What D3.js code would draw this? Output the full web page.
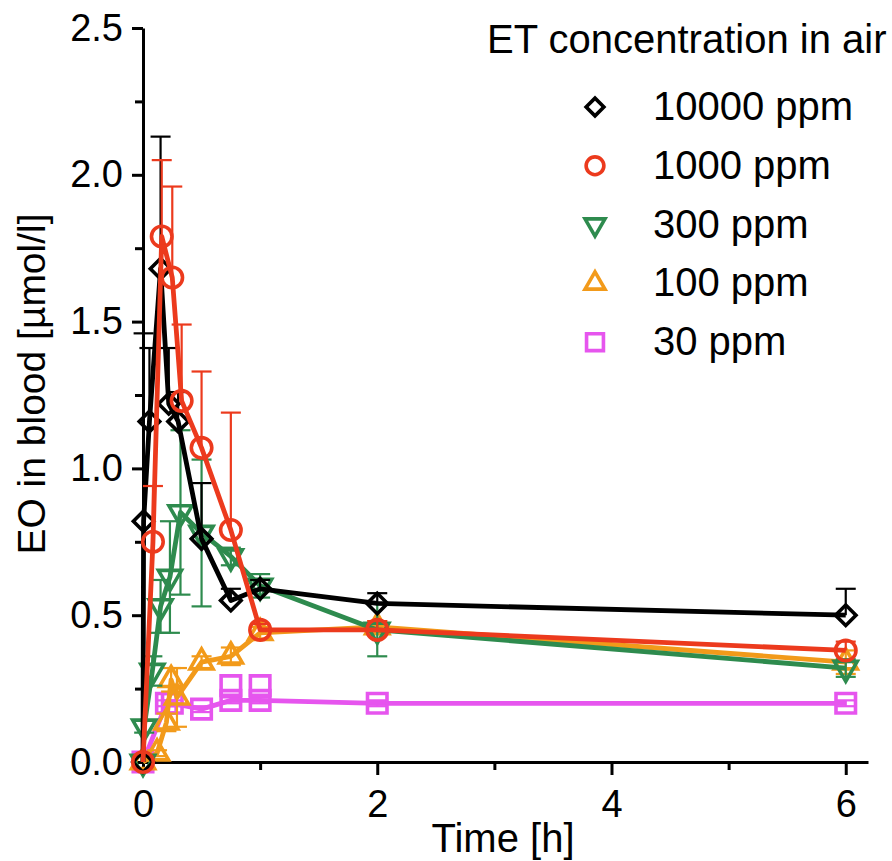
<!DOCTYPE html>
<html>
<head>
<meta charset="utf-8">
<script src="https://cdn.jsdelivr.net/npm/d3@7"></script>
<style>
  body { margin: 0; background: #fff; }
  text { font-family: "Liberation Sans", Arial, sans-serif; fill: #000; }
</style>
</head>
<body>
<div id="chart"></div>
<script>
var width = 892,
    height = 861;

// time [h], mean EO [umol/l], SD  -- one set per ET concentration
var t10000 = [0, 0.005, 0.055, 0.15, 0.22, 0.30, 0.5, 0.75, 1, 2, 6];
var v10000 = [0, 0.82, 1.16, 1.68, 1.22, 1.16, 0.76, 0.55, 0.59, 0.54, 0.50];
var e10000 = [0, 0.64, 0.25, 0.45, 0.19, 0.10, 0.19, 0.04, 0.03, 0.035, 0.09];

var t1000 = [0, 0.085, 0.16, 0.25, 0.33, 0.5, 0.75, 1, 2, 6];
var v1000 = [0, 0.75, 1.79, 1.65, 1.23, 1.07, 0.79, 0.45, 0.45, 0.38];
var e1000 = [0, 0.19, 0.26, 0.31, 0.26, 0.26, 0.40, 0.02, 0.03, 0.03];

var t300 = [0, 0.01, 0.08, 0.15, 0.23, 0.32, 0.5, 0.75, 1, 2, 6];
var v300 = [0, 0.12, 0.31, 0.53, 0.63, 0.85, 0.78, 0.70, 0.60, 0.45, 0.32];
var e300 = [0, 0.02, 0.05, 0.09, 0.19, 0.28, 0.25, 0.03, 0.04, 0.09, 0.03];

var t100 = [0, 0.12, 0.2, 0.24, 0.29, 0.5, 0.75, 1, 2, 6];
var v100 = [0, 0.03, 0.135, 0.28, 0.22, 0.34, 0.36, 0.44, 0.46, 0.34];
var e100 = [0, 0.01, 0.03, 0.04, 0.10, 0.02, 0.03, 0.02, 0.02, 0.04];

var t30 = [0, 0.2, 0.25, 0.5, 0.75, 1, 2, 6];
var v30 = [0, 0.20, 0.20, 0.18, 0.21, 0.21, 0.20, 0.20];
var e30 = [0, 0.01, 0.01, 0.01, 0.01, 0.01, 0.01, 0.01];
// second sample at 0.75 h and 1 h
var t30b = [0.75, 1];
var v30b = [0.26, 0.26];

var legendLabels = ["10000 ppm", "1000 ppm", "300 ppm", "100 ppm", "30 ppm"];
var legendTitle = "ET concentration in air";
var yTicks = [0, 0.5, 1, 1.5, 2, 2.5];
var yMinor = [0.25, 0.75, 1.25, 1.75, 2.25];
var xTicks = [0, 2, 4, 6];
var xMinor = [1, 3, 5];

function zip(t, v, e) {
  return t.map(function(d, i) { return {t: d, v: v[i], e: e ? e[i] : 0}; });
}

var series = [
  {key: "10000", data: zip(t10000, v10000, e10000), color: "#000000", sym: d3.symbolSquare, size: 210, rot: 45, both: false},
  {key: "1000",  data: zip(t1000, v1000, e1000),    color: "#ec3a1d", sym: d3.symbolCircle, size: 330, rot: 0,  both: false},
  {key: "300",   data: zip(t300, v300, e300),       color: "#2e8b4e", sym: d3.symbolTriangle, size: 230, rot: 180, both: true},
  {key: "100",   data: zip(t100, v100, e100),       color: "#f29a1a", sym: d3.symbolTriangle, size: 230, rot: 0, both: true},
  {key: "30",    data: zip(t30, v30, e30),          color: "#e655ee", sym: d3.symbolSquare, size: 380, rot: 0, both: true}
];
series[4].extra = zip(t30b, v30b);

var svg = d3.select("#chart").append("svg")
    .attr("width", width)
    .attr("height", height)

var x = d3.scaleLinear().domain([0, 6.19]).range([143, 868]);
var y = d3.scaleLinear().domain([0, 2.5]).range([762, 28]);

/* axes */
svg.append("g")
    .attr("transform", "translate(143,0)")
    .call(d3.axisLeft(y).tickValues(yTicks).tickFormat(d3.format(".1f"))
      .tickSize(11).tickSizeOuter(0).tickPadding(9))
svg.append("g")
    .attr("transform", "translate(143,0)")
    .call(d3.axisLeft(y).tickValues(yMinor).tickFormat("").tickSize(8))
    .select(".domain").remove()

svg.append("g")
    .attr("transform", "translate(0,762)")
    .call(d3.axisBottom(x).tickValues(xTicks).tickFormat(d3.format("d"))
      .tickSize(13).tickSizeOuter(0).tickPadding(15))
svg.append("g")
    .attr("transform", "translate(0,762)")
    .call(d3.axisBottom(x).tickValues(xMinor).tickFormat("").tickSize(8))
    .select(".domain").remove()

svg.selectAll(".domain, .tick line")
    .attr("stroke", "#000")
    .attr("stroke-width", 3)
svg.selectAll(".tick text")
    .style("font-size", "38px")
    .style("font-family", "'Liberation Sans', Arial, sans-serif")

/* axis titles */
svg.append("text")
    .attr("transform", "translate(45,384) rotate(-90)")
    .attr("text-anchor", "middle")
    .style("font-size", "39px")
    .text("EO in blood [µmol/l]")

svg.append("text")
    .attr("x", 503)
    .attr("y", 852)
    .attr("text-anchor", "middle")
    .style("font-size", "40px")
    .text("Time [h]")

/* series: error bars, line, markers */
var line = d3.line()
    .x(function(d) { return x(d.t) })
    .y(function(d) { return y(d.v) })

var drawOrder = [4, 3, 2, 0, 1];
var capW = 10;

drawOrder.forEach(function(i) {
  var s = series[i];
  var g = svg.append("g").attr("class", "series s" + s.key);
  var withErr = s.data.filter(function(d) { return d.e > 0 });

  var eb = g.selectAll("g.err").data(withErr).enter().append("g")
      .attr("class", "err")
      .attr("stroke", s.color)
      .attr("stroke-width", 2.2)
  eb.append("line")
      .attr("x1", function(d) { return x(d.t) })
      .attr("x2", function(d) { return x(d.t) })
      .attr("y1", function(d) { return y(s.both ? d.v - d.e : d.v) })
      .attr("y2", function(d) { return y(d.v + d.e) })
  eb.append("line")
      .attr("x1", function(d) { return x(d.t) - capW })
      .attr("x2", function(d) { return x(d.t) + capW })
      .attr("y1", function(d) { return y(d.v + d.e) })
      .attr("y2", function(d) { return y(d.v + d.e) })
  if (s.both) {
    eb.append("line")
        .attr("x1", function(d) { return x(d.t) - capW })
        .attr("x2", function(d) { return x(d.t) + capW })
        .attr("y1", function(d) { return y(d.v - d.e) })
        .attr("y2", function(d) { return y(d.v - d.e) })
  }

  g.append("path")
      .datum(s.data)
      .attr("fill", "none")
      .attr("stroke", s.color)
      .attr("stroke-width", 4.8)
      .attr("stroke-linejoin", "round")
      .attr("d", line)

  var pts = s.data.concat(s.extra || []);
  g.selectAll("path.pt").data(pts).enter().append("path")
      .attr("class", "pt")
      .attr("d", d3.symbol().type(s.sym).size(s.size))
      .attr("transform", function(d) {
        return "translate(" + x(d.t) + "," + y(d.v) + ") rotate(" + s.rot + ")"
      })
      .attr("fill", "none")
      .attr("stroke", s.color)
      .attr("stroke-width", 3.6)
});

/* legend */
svg.append("text")
    .attr("x", 487)
    .attr("y", 53)
    .style("font-size", "40px")
    .text(legendTitle)

var leg = svg.selectAll("g.legend").data(series).enter().append("g")
    .attr("class", "legend")
    .attr("transform", function(d, i) { return "translate(0," + (120 + i * 58.8) + ")" })

leg.append("path")
    .attr("d", function(d) { return d3.symbol().type(d.sym).size(d.size * 0.75)() })
    .attr("transform", function(d) { return "translate(595,-13) rotate(" + d.rot + ")" })
    .attr("fill", "none")
    .attr("stroke", function(d) { return d.color })
    .attr("stroke-width", 3.6)

leg.append("text")
    .attr("x", 653)
    .attr("y", 0)
    .style("font-size", "40px")
    .text(function(d, i) { return legendLabels[i] })
</script>
</body>
</html>
